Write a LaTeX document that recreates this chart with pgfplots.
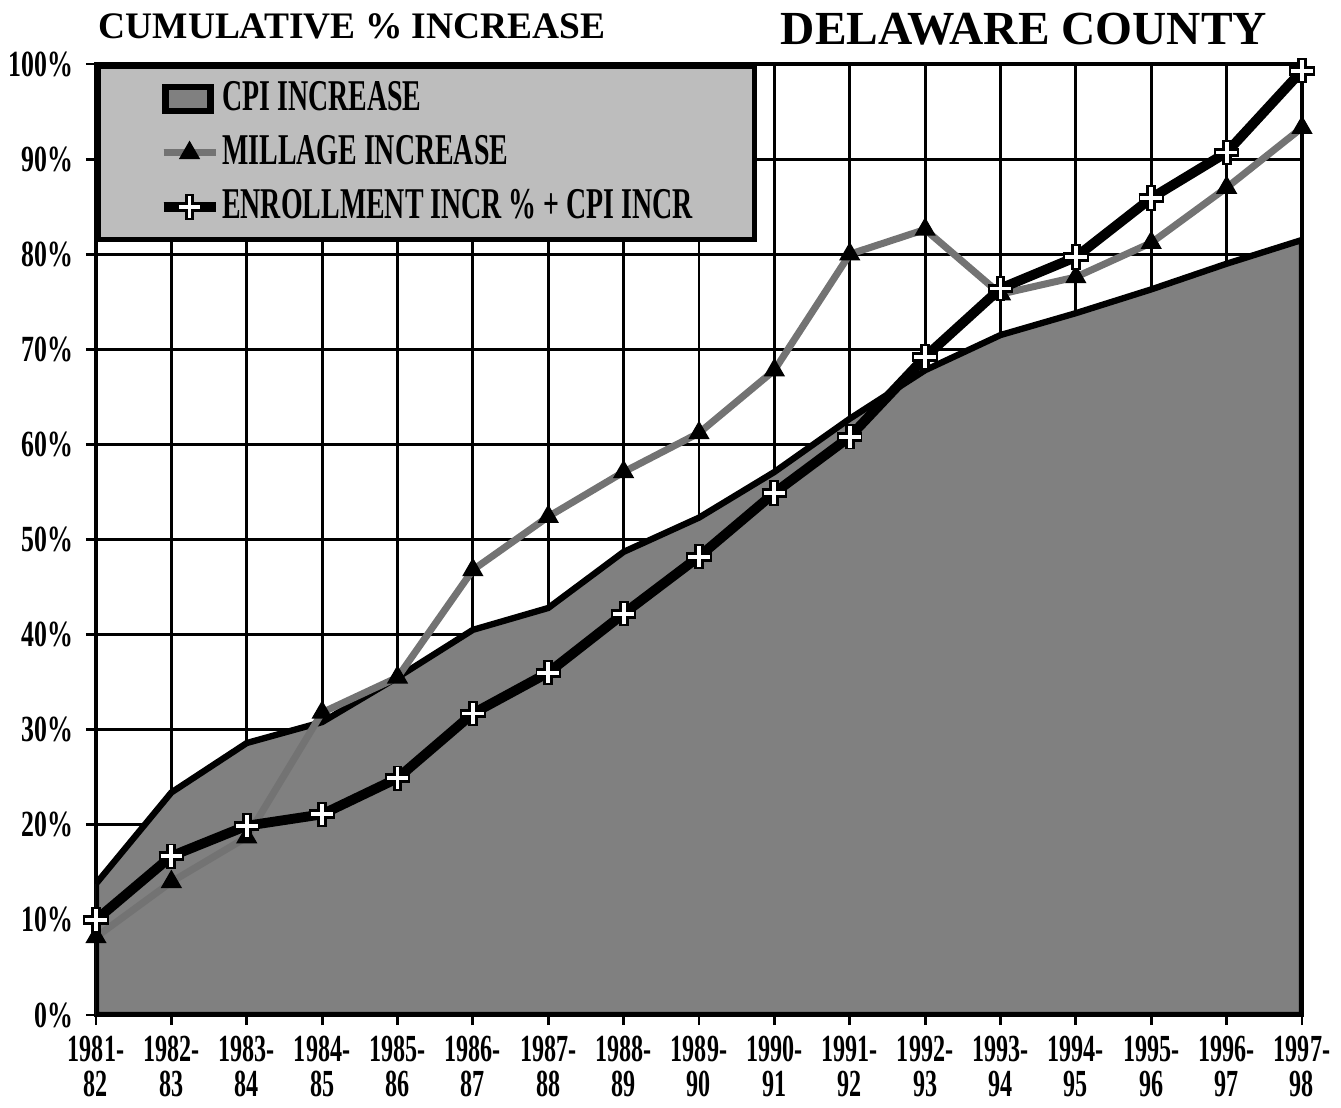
\documentclass[border=0pt]{standalone}
\usepackage{pgfplots}
\pgfplotsset{compat=1.18}
\usepackage{fontspec}
\setmainfont{Liberation Serif}
\newfontfamily\condX{Liberation Serif}[FakeStretch=0.63]
\newfontfamily\condY{Liberation Serif}[FakeStretch=0.70]
\newfontfamily\condL{Liberation Serif}[FakeStretch=0.635]

\pgfdeclareplotmark{wcross}{%
  \pgfsetlinewidth{2.8pt}\pgfsetstrokecolor{black}%
  \pgfpathmoveto{\pgfpoint{-\pgfplotmarksize}{0pt}}\pgfpathlineto{\pgfpoint{\pgfplotmarksize}{0pt}}%
  \pgfpathmoveto{\pgfpoint{0pt}{-\pgfplotmarksize}}\pgfpathlineto{\pgfpoint{0pt}{\pgfplotmarksize}}%
  \pgfusepath{stroke}%
  \pgfsetlinewidth{1.1pt}\pgfsetstrokecolor{white}%
  \pgfpathmoveto{\pgfpoint{-0.85\pgfplotmarksize}{0pt}}\pgfpathlineto{\pgfpoint{0.85\pgfplotmarksize}{0pt}}%
  \pgfpathmoveto{\pgfpoint{0pt}{-0.85\pgfplotmarksize}}\pgfpathlineto{\pgfpoint{0pt}{0.85\pgfplotmarksize}}%
  \pgfusepath{stroke}%
}
\pgfplotsset{shortline/.style={legend image code/.code={%
  \draw[##1] (0cm,0cm) -- (0.52cm,0cm);
  \draw[##1, mark repeat=2, mark phase=2] plot coordinates {(0cm,0cm) (0.26cm,0cm) (0.52cm,0cm)};}},
  shortarea/.style={legend image code/.code={%
  \draw[##1] (0.02cm,-0.12cm) rectangle (0.47cm,0.12cm);}}}

\begin{document}
\begin{tikzpicture}
\useasboundingbox (-0.96cm,-0.92cm) rectangle (12.45cm,10.15cm);
\begin{axis}[
  at={(0,0)}, anchor=south west,
  scale only axis, width=12.06cm, height=9.51cm,
  xmin=0, xmax=16, ymin=0, ymax=100,
  enlargelimits=false,
  xtick={0,...,16},
  xticklabels={{1981-\\82},{1982-\\83},{1983-\\84},{1984-\\85},{1985-\\86},{1986-\\87},{1987-\\88},{1988-\\89},{1989-\\90},{1990-\\91},{1991-\\92},{1992-\\93},{1993-\\94},{1994-\\95},{1995-\\96},{1996-\\97},{1997-\\98}},
  x tick label style={align=center, font=\condX\bfseries\fontsize{10.9}{10.2}\selectfont, yshift=0.5pt},
  ytick={0,10,...,100},
  yticklabel={\pgfmathprintnumber{\tick}\%},
  y tick label style={font=\condY\bfseries\fontsize{10.5}{12}\selectfont},
  /pgf/number format/assume math mode=true,
  xtick pos=bottom, ytick pos=left,
  tick align=outside, major tick length=1mm,
  every tick/.style={black, line width=0.8pt},
  grid=major,
  major grid style={black, line width=0.8pt},
  axis line style={line width=1.2pt},
  legend style={at={(rel axis cs:0,1)}, anchor=north west,
    fill=black!26, draw=black, line width=1.5pt,
    font=\condL\bfseries\fontsize{12.5}{14}\selectfont,
    inner xsep=0.6cm, inner ysep=0.08cm, row sep=1.6pt,
    nodes={inner xsep=0.5pt},
    cells={anchor=west}},
  legend cell align=left,
]
\addplot[fill=black!50, draw=black, line width=1.8pt, area legend, shortarea] coordinates {
 (0,13.8) (1,23.4) (2,28.6) (3,30.8) (4,35.5) (5,40.5) (6,42.8) (7,48.7) (8,52.3)
 (9,57.1) (10,62.7) (11,67.8) (12,71.5) (13,73.8) (14,76.3) (15,79.0) (16,81.5)
} \closedcycle;
\addlegendentry{CPI INCREASE}
\addplot[black!55, line width=2pt, mark=triangle*, mark size=3pt,
  mark options={black, fill=black, line width=0.5pt}, shortline
] coordinates {
 (0,8.2) (1,14.0) (2,18.7) (3,31.8) (4,35.5) (5,46.8) (6,52.4) (7,57.1) (8,61.2)
 (9,67.8) (10,80.0) (11,82.6) (12,75.8) (13,77.6) (14,81.2) (15,87.0) (16,93.3)
};
\addlegendentry{MILLAGE INCREASE}
\addplot[black, line width=2.8pt, mark=wcross, mark size=3.6pt, shortline
] coordinates {
 (0,10.0) (1,16.7) (2,19.9) (3,21.1) (4,24.9) (5,31.7) (6,36.0) (7,42.2) (8,48.2)
 (9,54.9) (10,60.8) (11,69.2) (12,76.4) (13,79.7) (14,85.9) (15,90.7) (16,99.3)
};
\addlegendentry{ENROLLMENT INCR \% + CPI INCR}
\end{axis}
\node[font=\bfseries\fontsize{10.65}{12}\selectfont, inner sep=0pt] at (2.56cm,9.89cm) {CUMULATIVE \% INCREASE};
\node[font=\bfseries\fontsize{13.5}{15}\selectfont, inner sep=0pt] at (9.28cm,9.86cm) {DELAWARE COUNTY};
\end{tikzpicture}
\end{document}
